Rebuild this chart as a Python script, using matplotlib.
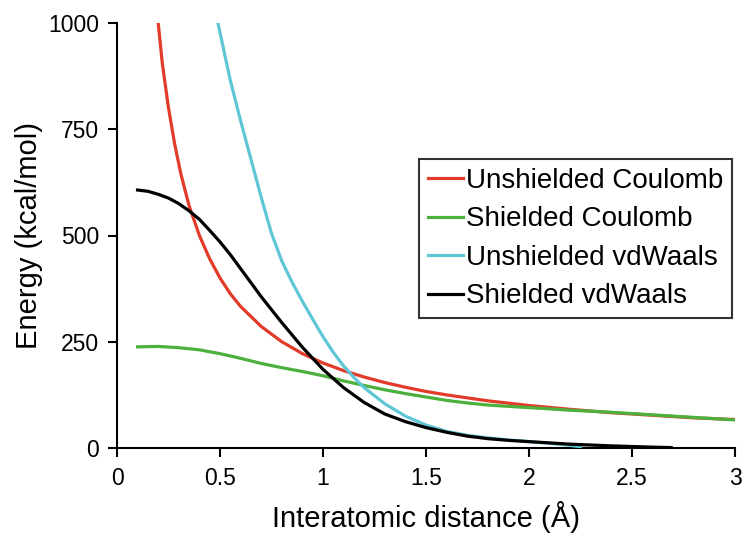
import numpy as np
import matplotlib
matplotlib.use('Agg')
import matplotlib.pyplot as plt

plt.rcParams['font.family'] = ['Liberation Sans', 'DejaVu Sans']

# values
unsh_coul_x = [0.2, 0.22, 0.25, 0.28, 0.31, 0.35, 0.4, 0.45, 0.5, 0.55, 0.6,
               0.7, 0.8, 0.9, 1.0, 1.1, 1.2, 1.3, 1.4, 1.5, 1.6, 1.8, 2.0,
               2.2, 2.4, 2.6, 2.8, 3.0]
unsh_coul_y = [1000, 905, 800, 715, 645, 570, 500, 445, 400, 363, 333,
               286, 250, 222, 200, 182, 167, 154, 143, 133, 125, 111, 100,
               91, 83, 77, 71, 67]

sh_coul_x = [0.1, 0.2, 0.3, 0.4, 0.5, 0.6, 0.7, 0.8, 0.9, 1.0, 1.1, 1.2,
             1.3, 1.4, 1.5, 1.6, 1.7, 1.8, 1.9, 2.0, 2.2, 2.4, 2.6, 2.8, 3.0]
sh_coul_y = [238, 239, 236, 231, 222, 211, 199, 189, 180, 170, 158, 147,
             137, 128, 120, 112, 106, 101, 98, 95, 89, 84, 78, 72, 66]

unsh_vdw_x = [0.49, 0.55, 0.6, 0.65, 0.7, 0.75, 0.8, 0.85, 0.9, 0.95, 1.0,
              1.05, 1.1, 1.15, 1.2, 1.3, 1.4, 1.5, 1.6, 1.7, 1.8, 1.9, 2.0,
              2.1, 2.2, 2.25]
unsh_vdw_y = [1000, 865, 770, 680, 590, 505, 440, 390, 345, 303, 262,
              225, 193, 166, 142, 104, 75, 54, 39, 30, 24, 19, 15,
              11, 6, 3]

sh_vdw_x = [0.1, 0.15, 0.2, 0.25, 0.3, 0.35, 0.4, 0.45, 0.5, 0.55, 0.6,
            0.7, 0.8, 0.9, 1.0, 1.1, 1.2, 1.3, 1.4, 1.5, 1.6, 1.7, 1.8,
            1.9, 2.0, 2.2, 2.4, 2.6, 2.69]
sh_vdw_y = [607, 604, 597, 588, 575, 558, 538, 512, 485, 455, 422,
            356, 295, 237, 185, 142, 107, 80, 62, 48, 37, 28, 22,
            18, 15, 9, 5, 2, 1]

x_ticks = [0, 0.5, 1, 1.5, 2, 2.5, 3]
x_tick_labels = ['0', '0.5', '1', '1.5', '2', '2.5', '3']
y_ticks = [0, 250, 500, 750, 1000]

fig = plt.figure(figsize=(7.43, 5.35), dpi=100)
ax = fig.add_axes([117/743, 1 - 448/535, 618/743, 425/535])

lw = 2.3
ax.plot(unsh_coul_x, unsh_coul_y, color='#e23b2a', lw=lw, label='Unshielded Coulomb', zorder=2)
ax.plot(sh_coul_x, sh_coul_y, color='#4bb03c', lw=lw, label='Shielded Coulomb', zorder=3)
ax.plot(unsh_vdw_x, unsh_vdw_y, color='#5fc6d6', lw=lw, label='Unshielded vdWaals', zorder=4)
ax.plot(sh_vdw_x, sh_vdw_y, color='black', lw=lw, label='Shielded vdWaals', zorder=5)

ax.set_xlim(0, 3)
ax.set_ylim(0, 1000)
ax.set_xticks(x_ticks)
ax.set_xticklabels(x_tick_labels)
ax.set_yticks(y_ticks)

for side in ['top', 'right']:
    ax.spines[side].set_visible(False)
for side in ['left', 'bottom']:
    ax.spines[side].set_linewidth(1.5)
ax.tick_params(direction='out', length=6.5, width=1.5, labelsize=16.5, pad=6.5)
ax.tick_params(axis='x', pad=7)

ax.set_xlabel('Interatomic distance (Å)', fontsize=21)
ax.set_ylabel('Energy (kcal/mol)', fontsize=21)
ax.xaxis.set_label_coords(0.5, -0.125)
ax.yaxis.set_label_coords(-0.12, 0.5)

leg = ax.legend(loc='upper left', bbox_to_anchor=(0.489, 0.68), fontsize=20,
                frameon=True, fancybox=False, edgecolor='black',
                handlelength=1.26, handletextpad=0.1, labelspacing=0.45,
                borderpad=0.32, borderaxespad=0)
leg.get_frame().set_linewidth(1.5)

fig.savefig('out.png', dpi=100)
